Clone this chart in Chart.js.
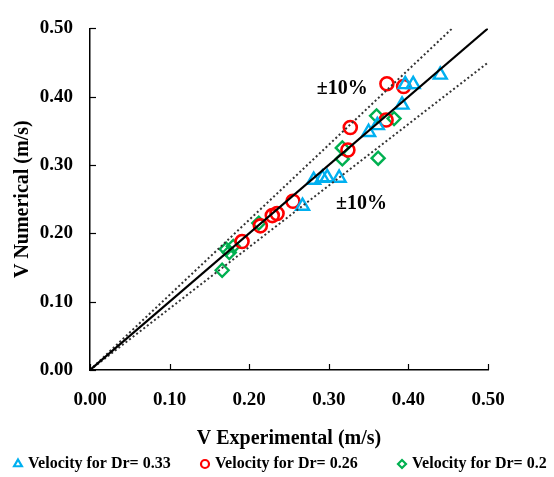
<!DOCTYPE html>
<html>
<head>
<meta charset="utf-8">
<script src="https://cdn.jsdelivr.net/npm/chart.js@4.4.1/dist/chart.umd.min.js"></script>
<style>
  html, body { margin: 0; padding: 0; background: #fff; }
  #wrap { width: 554px; height: 477px; position: relative; }
</style>
</head>
<body>
<div id="wrap"><canvas id="scatter-chart"></canvas></div>
<script>
// values (experimental vs numerical velocity, m/s)
const blueX = [0.267, 0.281, 0.292, 0.298, 0.313, 0.350, 0.361, 0.392, 0.396, 0.406, 0.440];
const blueY = [0.240, 0.278, 0.281, 0.282, 0.281, 0.348, 0.358, 0.388, 0.418, 0.418, 0.432];
const redX = [0.191, 0.214, 0.229, 0.235, 0.255, 0.324, 0.327, 0.372, 0.373, 0.394];
const redY = [0.188, 0.211, 0.226, 0.229, 0.247, 0.322, 0.355, 0.366, 0.419, 0.415];
const greenX = [0.166, 0.171, 0.175, 0.180, 0.212, 0.317, 0.317, 0.362, 0.360, 0.382];
const greenY = [0.146, 0.177, 0.172, 0.181, 0.215, 0.309, 0.325, 0.310, 0.372, 0.368];

const seriesLabels = ['Velocity for Dr= 0.33', 'Velocity for Dr= 0.26', 'Velocity for Dr= 0.2'];

// 1:1 line and the +/-10% band
const fitX = [0, 0.50];
const fitY = [0, 0.50];
const upperX = [0, 0.455];
const upperY = [0, 0.50];
const lowerX = [0, 0.50];
const lowerY = [0, 0.45];

// "±10%" notes
const noteText = ['±10%', '±10%'];
const noteX = [0.317, 0.341];
const noteY = [0.411, 0.243];

const tickValues = [0, 0.1, 0.2, 0.3, 0.4, 0.5];

const pts = (xs, ys) => xs.map((x, i) => ({ x: x, y: ys[i] }));
const serif = 'Liberation Serif, Times New Roman, serif';

// ticks in Excel style point into the plot, legend is a single row that runs off the right edge
const extrasPlugin = {
  id: 'extras',
  afterDraw(chart) {
    const ctx = chart.ctx;
    const area = chart.chartArea;
    const xs = chart.scales.x;
    const ys = chart.scales.y;
    ctx.save();
    ctx.strokeStyle = '#000';
    ctx.lineWidth = 1.2;
    tickValues.forEach(v => {
      const px = Math.round(xs.getPixelForValue(v)) + 0.5;
      ctx.beginPath();
      ctx.moveTo(px, area.bottom);
      ctx.lineTo(px, area.bottom - 6);
      ctx.stroke();
      const py = Math.round(ys.getPixelForValue(v)) + 0.5;
      ctx.beginPath();
      ctx.moveTo(area.left, py);
      ctx.lineTo(area.left + 6, py);
      ctx.stroke();
    });

    ctx.fillStyle = '#000';
    ctx.font = 'bold 20px ' + serif;
    ctx.textAlign = 'center';
    ctx.textBaseline = 'middle';
    noteText.forEach((t, i) => {
      ctx.fillText(t, xs.getPixelForValue(noteX[i]), ys.getPixelForValue(noteY[i]));
    });

    const legendX = [18, 205, 402];
    const legendY = 464;
    ctx.font = 'bold 16px ' + serif;
    ctx.textAlign = 'left';
    chart.data.datasets.filter(d => d.isSeries).forEach((d, i) => {
      ctx.fillStyle = '#fff';
      ctx.strokeStyle = d.borderColor;
      ctx.lineWidth = 2.2;
      Chart.helpers.drawPoint(ctx, {
        pointStyle: d.pointStyle,
        radius: d.pointStyle === 'triangle' ? 4.5 : 4,
        borderWidth: 2.2,
        rotation: 0
      }, legendX[i], legendY);
      ctx.fillStyle = '#000';
      ctx.fillText(d.label, legendX[i] + 10, legendY);
    });
    ctx.restore();
  }
};

const ctx = document.getElementById('scatter-chart').getContext('2d');
new Chart(ctx, {
  type: 'scatter',
  data: {
    datasets: [
      {
        label: '1:1',
        type: 'line',
        data: pts(fitX, fitY),
        borderColor: '#000',
        borderWidth: 2.2,
        pointRadius: 0,
        order: 0
      },
      {
        label: '+10%',
        type: 'line',
        data: pts(upperX, upperY),
        borderColor: '#333',
        borderWidth: 2,
        borderDash: [2, 2.5],
        pointRadius: 0,
        order: 0
      },
      {
        label: '-10%',
        type: 'line',
        data: pts(lowerX, lowerY),
        borderColor: '#333',
        borderWidth: 2,
        borderDash: [2, 2.5],
        pointRadius: 0,
        order: 0
      },
      {
        label: seriesLabels[0],
        isSeries: true,
        data: pts(blueX, blueY),
        pointStyle: 'triangle',
        pointRadius: 7.5,
        pointBorderWidth: 2.4,
        borderColor: '#00B0F0',
        pointBorderColor: '#00B0F0',
        pointBackgroundColor: 'rgba(0,0,0,0)',
        order: 1
      },
      {
        label: seriesLabels[1],
        isSeries: true,
        data: pts(redX, redY),
        pointStyle: 'circle',
        pointRadius: 6.5,
        pointBorderWidth: 2.6,
        borderColor: '#FF0000',
        pointBorderColor: '#FF0000',
        pointBackgroundColor: 'rgba(0,0,0,0)',
        order: 1
      },
      {
        label: seriesLabels[2],
        isSeries: true,
        data: pts(greenX, greenY),
        pointStyle: 'rectRot',
        pointRadius: 6.5,
        pointBorderWidth: 2.4,
        borderColor: '#00B050',
        pointBorderColor: '#00B050',
        pointBackgroundColor: 'rgba(0,0,0,0)',
        order: 1
      }
    ]
  },
  options: {
    responsive: true,
    maintainAspectRatio: false,
    animation: false,
    layout: { padding: { left: 0, right: 66, top: 19, bottom: 26 } },
    plugins: {
      legend: { display: false },
      tooltip: { enabled: false }
    },
    scales: {
      x: {
        type: 'linear',
        min: 0,
        max: 0.5,
        afterFit: (scale) => { scale.height = 81; },
        afterBuildTicks: (scale) => { scale.ticks = tickValues.map(v => ({ value: v })); },
        grid: { display: true, drawOnChartArea: false, drawTicks: false },
        border: { color: '#000', width: 1.5 },
        ticks: {
          padding: 19,
          color: '#000',
          font: { family: serif, size: 19, weight: 'bold' },
          callback: (v) => Number(v).toFixed(2)
        },
        title: {
          display: true,
          text: 'V Experimental (m/s)',
          color: '#000',
          font: { family: serif, size: 20, weight: 'bold' },
          padding: { top: 0, bottom: 0 }
        }
      },
      y: {
        type: 'linear',
        min: 0,
        max: 0.5,
        afterFit: (scale) => { scale.width = 90; },
        afterBuildTicks: (scale) => { scale.ticks = tickValues.map(v => ({ value: v })); },
        grid: { display: true, drawOnChartArea: false, drawTicks: false },
        border: { color: '#000', width: 1.5 },
        ticks: {
          padding: 17,
          color: '#000',
          font: { family: serif, size: 19, weight: 'bold' },
          callback: (v) => Number(v).toFixed(2)
        },
        title: {
          display: true,
          text: 'V Numerical (m/s)',
          color: '#000',
          font: { family: serif, size: 20, weight: 'bold' },
          padding: { top: 11, bottom: 0 }
        }
      }
    }
  },
  plugins: [extrasPlugin]
});
</script>
</body>
</html>
